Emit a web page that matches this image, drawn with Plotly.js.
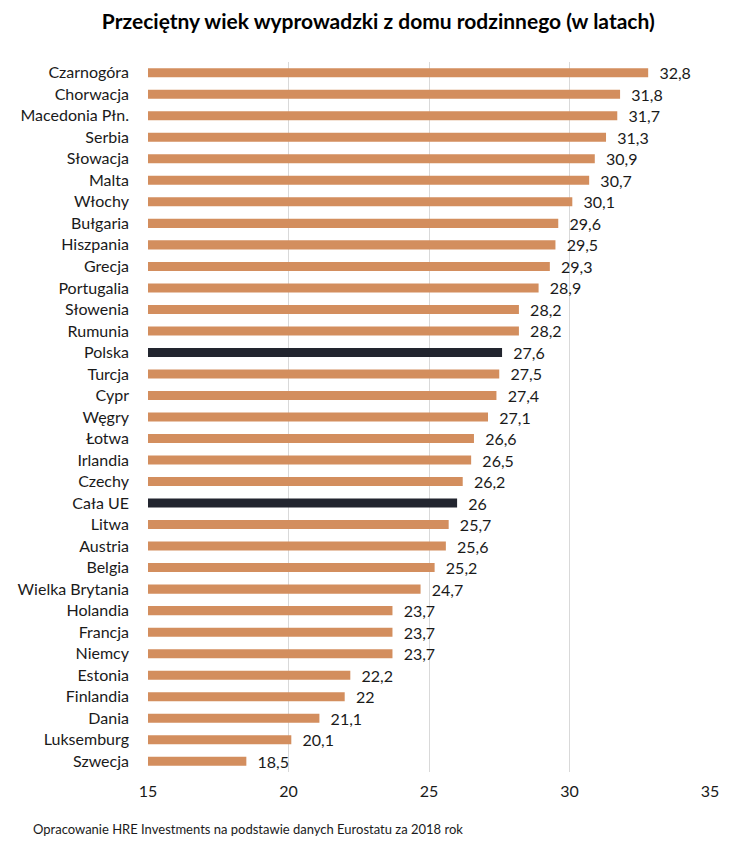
<!DOCTYPE html>
<html>
<head>
<meta charset="utf-8">
<script src="https://cdn.plot.ly/plotly-3.0.1.min.js"></script>
<style>body{margin:0;background:#fff;}#chart{width:736px;height:847px;}</style>
</head>
<body>
<div id="chart"></div>
<script>
const countries = ["Czarnogóra","Chorwacja","Macedonia Płn.","Serbia","Słowacja","Malta","Włochy","Bułgaria","Hiszpania","Grecja","Portugalia","Słowenia","Rumunia","Polska","Turcja","Cypr","Węgry","Łotwa","Irlandia","Czechy","Cała UE","Litwa","Austria","Belgia","Wielka Brytania","Holandia","Francja","Niemcy","Estonia","Finlandia","Dania","Luksemburg","Szwecja"];
const ages = [32.8,31.8,31.7,31.3,30.9,30.7,30.1,29.6,29.5,29.3,28.9,28.2,28.2,27.6,27.5,27.4,27.1,26.6,26.5,26.2,26,25.7,25.6,25.2,24.7,23.7,23.7,23.7,22.2,22,21.1,20.1,18.5];
const highlighted = ["Polska","Cała UE"];
const tickVals = [15,20,25,30,35];
const baseColor = "#D38E5E";
const highlightColor = "#22252F";
const font = "Lato, 'Open Sans', sans-serif";

const trace = {
  type: "bar",
  orientation: "h",
  y: countries,
  x: ages.map(v => v - 15),
  base: 15,
  width: 0.42,
  marker: {color: countries.map(c => highlighted.includes(c) ? highlightColor : baseColor)},
  text: ages.map(v => "\u00a0\u00a0" + String(v).replace(".", ",")),
  textposition: "outside",
  constraintext: "none",
  textfont: {family: font, size: 16, color: "#1a1a1a"},
  cliponaxis: false,
  hoverinfo: "skip"
};

const layout = {
  width: 736, height: 847,
  margin: {l: 148, r: 26, t: 62, b: 75},
  paper_bgcolor: "#fff", plot_bgcolor: "#fff",
  showlegend: false,
  title: {text: "<b>Przeciętny wiek wyprowadzki z domu rodzinnego (w latach)</b>", x: 0.514, xanchor: "center", y: 0.974, yanchor: "middle", font: {family: font, size: 21, color: "#000"}},
  xaxis: {range: [15, 35], tickvals: tickVals, ticktext: tickVals.map(String), showgrid: true, gridcolor: "#D9D9D9", gridwidth: 1, zeroline: false, showline: false, ticks: "", tickfont: {family: font, size: 16, color: "#1a1a1a"}, ticklabelstandoff: 8, fixedrange: true},
  yaxis: {autorange: "reversed", type: "category", showgrid: false, showline: false, ticks: "", tickfont: {family: font, size: 16, color: "#1a1a1a"}, ticklabelstandoff: 18, fixedrange: true},
  annotations: [{text: "Opracowanie HRE Investments na podstawie danych Eurostatu za 2018 rok", xref: "paper", yref: "paper", x: -0.208, y: -0.08, xanchor: "left", yanchor: "middle", showarrow: false, font: {family: font, size: 13, color: "#1a1a1a"}}]
};

Plotly.newPlot("chart", [trace], layout, {staticPlot: true, displayModeBar: false});
</script>
</body>
</html>
